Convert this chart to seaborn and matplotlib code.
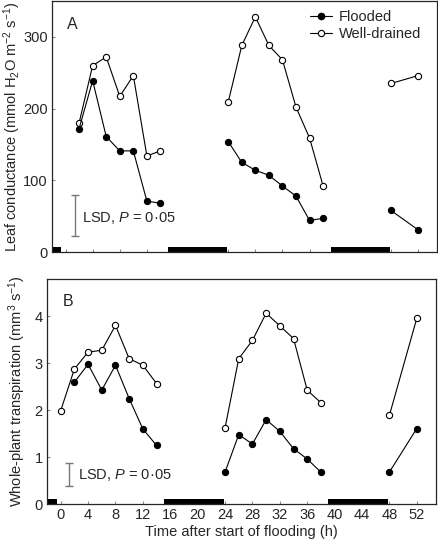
import pandas as pd
import matplotlib
matplotlib.use("Agg")
import matplotlib.pyplot as plt
from matplotlib.lines import Line2D
import seaborn as sns

# values (hours after start of flooding)
hours_1 = [2, 4, 6, 8, 10, 12, 14]
hours_2 = [24, 26, 28, 30, 32, 34, 36, 38]
hours_3 = [48, 52]

# panel A - leaf conductance
cond_flooded = [172, 239, 161, 141, 141, 71, 68,
                154, 125, 114, 107, 92, 78, 44, 47,
                58, 31]
cond_drained = [180, 260, 272, 217, 246, 134, 141,
                209, 288, 328, 288, 268, 202, 159, 92,
                235, 246]

# panel B - whole-plant transpiration (well-drained also has a 0 h point)
transp_hours_drained = [0] + hours_1
transp_flooded = [2.60, 2.98, 2.43, 2.96, 2.25, 1.60, 1.25,
                  0.68, 1.48, 1.28, 1.80, 1.55, 1.18, 0.96, 0.68,
                  0.68, 1.61]
transp_drained = [1.99, 2.88, 3.24, 3.28, 3.81, 3.10, 2.96, 2.57,
                  1.62, 3.10, 3.49, 4.07, 3.80, 3.53, 2.43, 2.16,
                  1.89, 3.96]

# dark periods
nights = [(-2.0, -0.6), (15.1, 23.8), (39.1, 47.8)]


def make_df(h1, values):
    hrs = h1 + hours_2 + hours_3
    seg = [1] * len(h1) + [2] * len(hours_2) + [3] * len(hours_3)
    return pd.DataFrame({"hour": hrs, "value": values, "segment": seg})


sns.set_style("ticks")
plt.rcParams["font.family"] = ["Liberation Sans", "DejaVu Sans"]
plt.rcParams["font.size"] = 10.5
plt.rcParams["mathtext.fontset"] = "custom"
plt.rcParams["mathtext.rm"] = "Liberation Sans"
plt.rcParams["mathtext.it"] = "Liberation Sans:italic"

fig = plt.figure(figsize=(4.38, 5.43), dpi=100)
axA = fig.add_axes([0.1187, 0.5359, 0.879, 0.4622])
axB = fig.add_axes([0.1073, 0.0718, 0.888, 0.4144])

panels = [
    (axA, make_df(hours_1, cond_drained), make_df(hours_1, cond_flooded),
     (0, 350), [0, 100, 200, 300], "A", (1.4, 22, 80), (2.4, 48)),
    (axB, make_df(transp_hours_drained, transp_drained), make_df(hours_1, transp_flooded),
     (0, 4.8), [0, 1, 2, 3, 4], "B", (1.2, 0.39, 0.87), (2.6, 0.62)),
]

for ax, d_drained, d_flooded, ylim, yticks, letter, lsd, lsd_txt in panels:
    sns.lineplot(data=d_drained, x="hour", y="value", units="segment", estimator=None,
                 color="black", lw=0.8, marker="o", markersize=4.5,
                 markerfacecolor="white", markeredgecolor="black", markeredgewidth=0.8,
                 ax=ax, legend=False)
    sns.lineplot(data=d_flooded, x="hour", y="value", units="segment", estimator=None,
                 color="black", lw=0.8, marker="o", markersize=4.5,
                 markerfacecolor="black", markeredgecolor="black",
                 ax=ax, legend=False)
    for start, end in nights:
        ax.axvspan(start, end, ymin=0, ymax=0.021, color="black", lw=0)
    ax.set_xlim(-2, 54.8)
    ax.set_ylim(*ylim)
    ax.set_xticks(range(0, 53, 4))
    ax.set_yticks(yticks)
    ax.tick_params(direction="in", length=2, width=0.8, color="#888888", pad=3)
    for s in ax.spines.values():
        s.set_linewidth(0.9)
    ax.text(0.04, 0.935, letter, transform=ax.transAxes, ha="left", va="top", fontsize=11.5)
    x_lsd, lo, hi = lsd
    ax.errorbar([x_lsd], [(lo + hi) / 2], yerr=[(hi - lo) / 2], color="#777777",
                lw=1, capsize=3, capthick=1)
    ax.text(lsd_txt[0], lsd_txt[1], r"LSD, $\mathit{P}$ = 0·05", ha="left", va="center")

axA.set_xticklabels([])
axA.set_xlabel("")
axA.set_ylabel("Leaf conductance (mmol H$_2$O m$^{-2}$ s$^{-1}$)", labelpad=0.5)
axB.set_xlabel("Time after start of flooding (h)", labelpad=2)
axB.set_ylabel("Whole-plant transpiration (mm$^3$ s$^{-1}$)", labelpad=5)

handles = [
    Line2D([], [], color="black", lw=0.8, marker="o", markersize=4.5,
           markerfacecolor="black"),
    Line2D([], [], color="black", lw=0.8, marker="o", markersize=4.5,
           markerfacecolor="white", markeredgewidth=0.8),
]
axA.legend(handles, ["Flooded", "Well-drained"], loc="upper left",
           bbox_to_anchor=(0.67, 0.965), frameon=False, borderpad=0,
           borderaxespad=0, handlelength=1.5, handletextpad=0.5, labelspacing=0.2)

fig.savefig("out.png", dpi=100)
